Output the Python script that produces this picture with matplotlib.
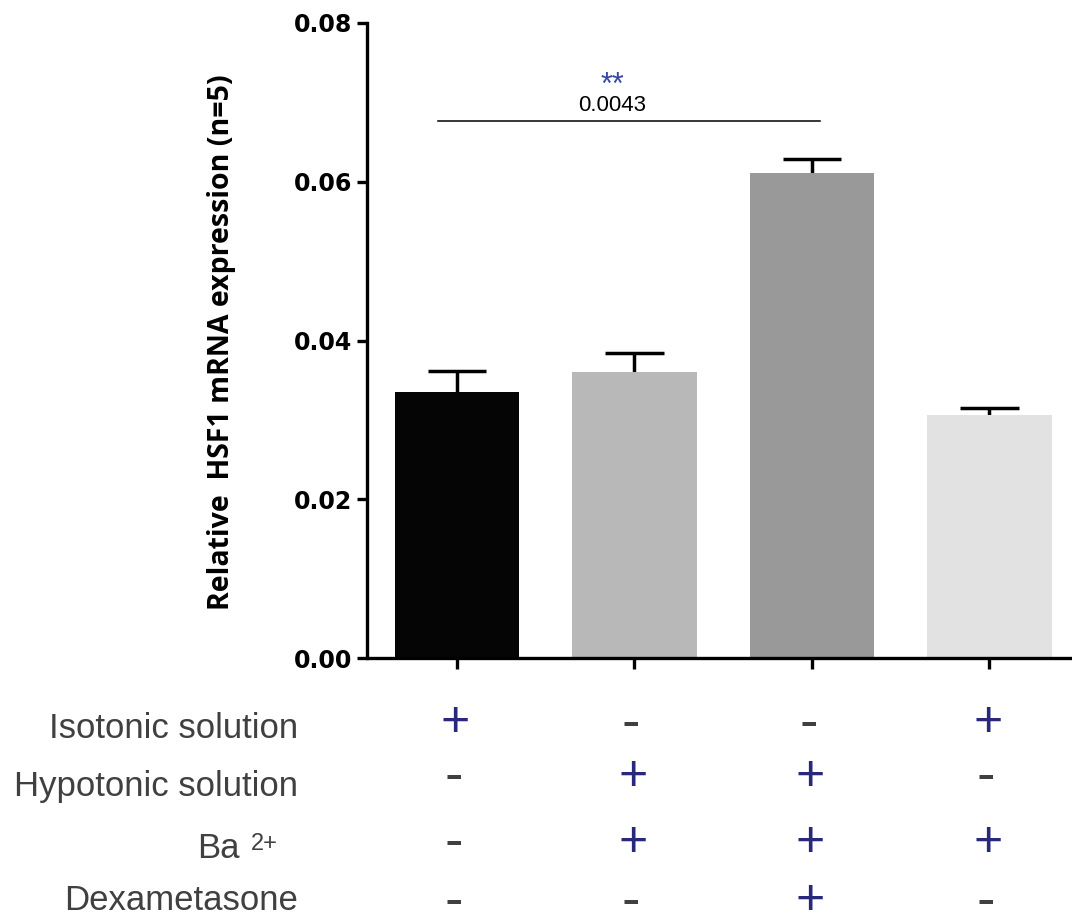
import numpy as np
import matplotlib.pyplot as plt
from matplotlib import ticker

# data
groups = ["G1", "G2", "G3", "G4"]
means = [0.0335, 0.0360, 0.0611, 0.0306]
errs = [0.00265, 0.0024, 0.00176, 0.0009]
colors = ["#050505", "#b8b8b8", "#999999", "#e2e2e2"]

row_labels = ["Isotonic solution", "Hypotonic solution", "Ba", "Dexametasone"]
row_signs = [
    ["+", "-", "-", "+"],
    ["-", "+", "+", "-"],
    ["-", "+", "+", "+"],
    ["-", "-", "+", "-"],
]
sig_pair = (0, 2)
sig_y = 0.0677
sig_p = "0.0043"
sig_stars = "**"

FONT = ["Liberation Sans", "DejaVu Sans"]
plt.rcParams['font.family'] = FONT

W, H = 1072, 916
Y0, Y1 = 658, 23          # pixel rows of 0.00 and 0.08
fig = plt.figure(figsize=(W / 100, H / 100), dpi=100)
ax = fig.add_axes([367 / W, 1 - Y0 / H, 1 - 367 / W, (Y0 - Y1) / H])

x = np.arange(len(groups))
ax.bar(x, means, width=0.70, color=colors, zorder=2)
tops = np.array(means) + np.array(errs)
ax.vlines(x, means, tops, color='black', lw=2.5, zorder=1)
ax.hlines(tops, x - 0.166, x + 0.166, color='black', lw=2.5, zorder=1)

ax.set_ylim(0, 0.08)
ax.set_xlim(-0.507, 3.465)
ax.yaxis.set_major_locator(ticker.MultipleLocator(0.02))
ax.yaxis.set_major_formatter(ticker.FormatStrFormatter("%.2f"))
ax.set_xticks(x)
ax.set_xticklabels([])

for s in ["top", "right"]:
    ax.spines[s].set_visible(False)
for s in ["left", "bottom"]:
    ax.spines[s].set_linewidth(2.4)
ax.spines["bottom"].set_capstyle('butt')
ax.tick_params(axis='y', length=7.2, width=2.4, pad=3.6)
ax.tick_params(axis='x', length=8, width=2.4)
for lab in ax.get_yticklabels():
    lab.set_fontfamily("DejaVu Sans")
    lab.set_fontweight('bold')
    lab.set_fontsize(17)

fig.text(222 / W, 1 - 342 / H, "Relative  HSF1 mRNA expression (n=5)", rotation=90,
         ha='center', va='center', fontsize=20.5, fontweight='bold',
         family=["Open Sans", "DejaVu Sans"])

# significance bar
def px2y(p):
    return (Y0 - p) / (Y0 - Y1) * 0.08

ax.plot([sig_pair[0] - 0.107, sig_pair[1] + 0.047], [sig_y, sig_y], color='black', lw=1.1)
ax.text(0.874, px2y(111), sig_p, ha='center', va='baseline', fontsize=16)
ax.text(0.874, px2y(94), sig_stars, ha='center', va='baseline',
        fontsize=22, color='#3646a8')

# treatment table
plus_px = [718, 772, 838, 896]
minus_px = [724, 777, 843, 902]
base_px = [738, 796, 858, 910]
trans = ax.get_xaxis_transform()
def px2ax(p):
    return (Y0 - p) / (Y0 - Y1)

for r, (lab, signs) in enumerate(zip(row_labels, row_signs)):
    for i, sgn in enumerate(signs):
        if sgn == "+":
            ax.text(x[i] - 0.01, px2ax(plus_px[r] + 17.7), "+", transform=trans,
                    ha='center', va='baseline', fontsize=36, color='#28297a',
                    clip_on=False)
        else:
            ax.text(x[i] - 0.02, px2ax(minus_px[r] + 15.2), "-", transform=trans,
                    ha='center', va='baseline', fontsize=40, color='#404040',
                    clip_on=False)
    if lab == "Ba":
        fig.text(240 / W, 1 - base_px[r] / H, lab, ha='right', va='baseline',
                 fontsize=25, color='#404040')
        fig.text(251 / W, 1 - 850 / H, "2+", ha='left', va='baseline',
                 fontsize=17, color='#404040')
    else:
        fig.text(298 / W, 1 - base_px[r] / H, lab, ha='right', va='baseline',
                 fontsize=25, color='#404040')

plt.savefig("out.png", dpi=100)
